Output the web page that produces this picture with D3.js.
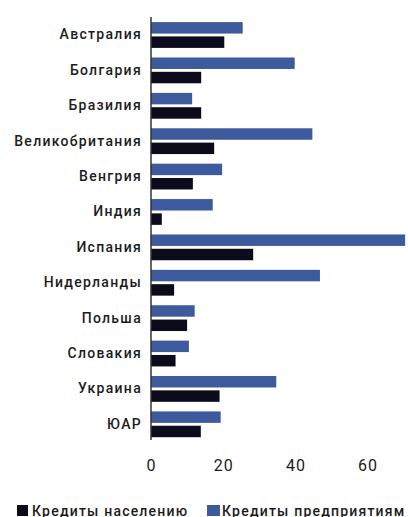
<!DOCTYPE html>
<html>
<head>
<meta charset="utf-8">
<script src="https://cdn.jsdelivr.net/npm/d3@7/dist/d3.min.js"></script>
<style>
  html, body { margin: 0; padding: 0; background: #fff; }
  svg { display: block; }
  text { font-family: Roboto, "Liberation Sans", Arial, sans-serif; fill: #1c1c1c; }
</style>
</head>
<body>
<svg id="chart" width="408" height="517"></svg>
<script>
// Countries, top to bottom
const countries = ["Австралия", "Болгария", "Бразилия", "Великобритания", "Венгрия", "Индия",
  "Испания", "Нидерланды", "Польша", "Словакия", "Украина", "ЮАР"];
// Loans to businesses (blue bars)
const businessLoans = [25.4, 39.8, 11.4, 44.7, 19.7, 17.1, 70.4, 46.8, 12.1, 10.5, 34.7, 19.3];
// Loans to households (dark bars)
const householdLoans = [20.3, 13.9, 13.9, 17.5, 11.6, 3.0, 28.3, 6.4, 10.0, 6.8, 19.0, 13.8];
const seriesNames = ["Кредиты предприятиям", "Кредиты населению"];
const legendNames = ["Кредиты населению", "Кредиты предприятиям"];
const xTicks = [0, 20, 40, 60];

const colors = { "Кредиты предприятиям": "#3c5a9c", "Кредиты населению": "#0b0b1c" };
const valuesBySeries = { "Кредиты предприятиям": businessLoans, "Кредиты населению": householdLoans };

const svg = d3.select("#chart");

const x = d3.scaleLinear().domain([0, 60]).range([151, 367.6]);
const y = d3.scaleBand().domain(countries).range([17.3, 442]);
const ySub = d3.scaleBand().domain(seriesNames).range([4.8, 30.6]).paddingInner(0.2);

const groups = svg.append("g")
  .selectAll("g")
  .data(countries)
  .join("g")
  .attr("transform", d => `translate(0,${y(d)})`);

groups.selectAll("rect")
  .data((c, i) => seriesNames.map(s => ({ s, v: valuesBySeries[s][i] })))
  .join("rect")
  .attr("x", x(0))
  .attr("y", d => ySub(d.s))
  .attr("width", d => x(d.v) - x(0))
  .attr("height", ySub.bandwidth())
  .attr("fill", d => colors[d.s]);

// Category axis (vertical line, labels only)
const yAxis = d3.axisLeft(y).tickSize(0).tickPadding(9);
const gy = svg.append("g").attr("transform", `translate(${x(0)},0)`).call(yAxis);
gy.select(".domain").attr("stroke", "#333").attr("stroke-width", 1.5).attr("d", "M0,17V440");
gy.selectAll(".tick text")
  .attr("font-size", 14)
  .attr("font-weight", 500)
  .attr("letter-spacing", 1.3)
  .style("font-family", "Roboto, 'Liberation Sans', Arial, sans-serif")
  .attr("fill", "#1c1c1c");

// Value axis: labels only
const xAxis = d3.axisBottom(x).tickValues(xTicks).tickSize(0).tickPadding(0);
const gx = svg.append("g").attr("transform", "translate(0,457)").call(xAxis);
gx.select(".domain").remove();
gx.selectAll(".tick text")
  .attr("font-size", 16)
  .attr("dy", "0.9em")
  .attr("letter-spacing", 1)
  .style("font-family", "Roboto, 'Liberation Sans', Arial, sans-serif")
  .attr("fill", "#1c1c1c");

// Legend
const legendX = [17, 207];
const legend = svg.append("g")
  .selectAll("g")
  .data(legendNames)
  .join("g")
  .attr("transform", (d, i) => `translate(${legendX[i]},505)`);
legend.append("rect")
  .attr("width", (d, i) => i === 0 ? 11 : 13)
  .attr("height", 11)
  .attr("fill", d => colors[d]);
legend.append("text")
  .attr("x", 15)
  .attr("y", 10.5)
  .attr("font-size", 14)
  .attr("font-weight", 500)
  .attr("letter-spacing", 1.2)
  .text(d => d);
</script>
</body>
</html>
